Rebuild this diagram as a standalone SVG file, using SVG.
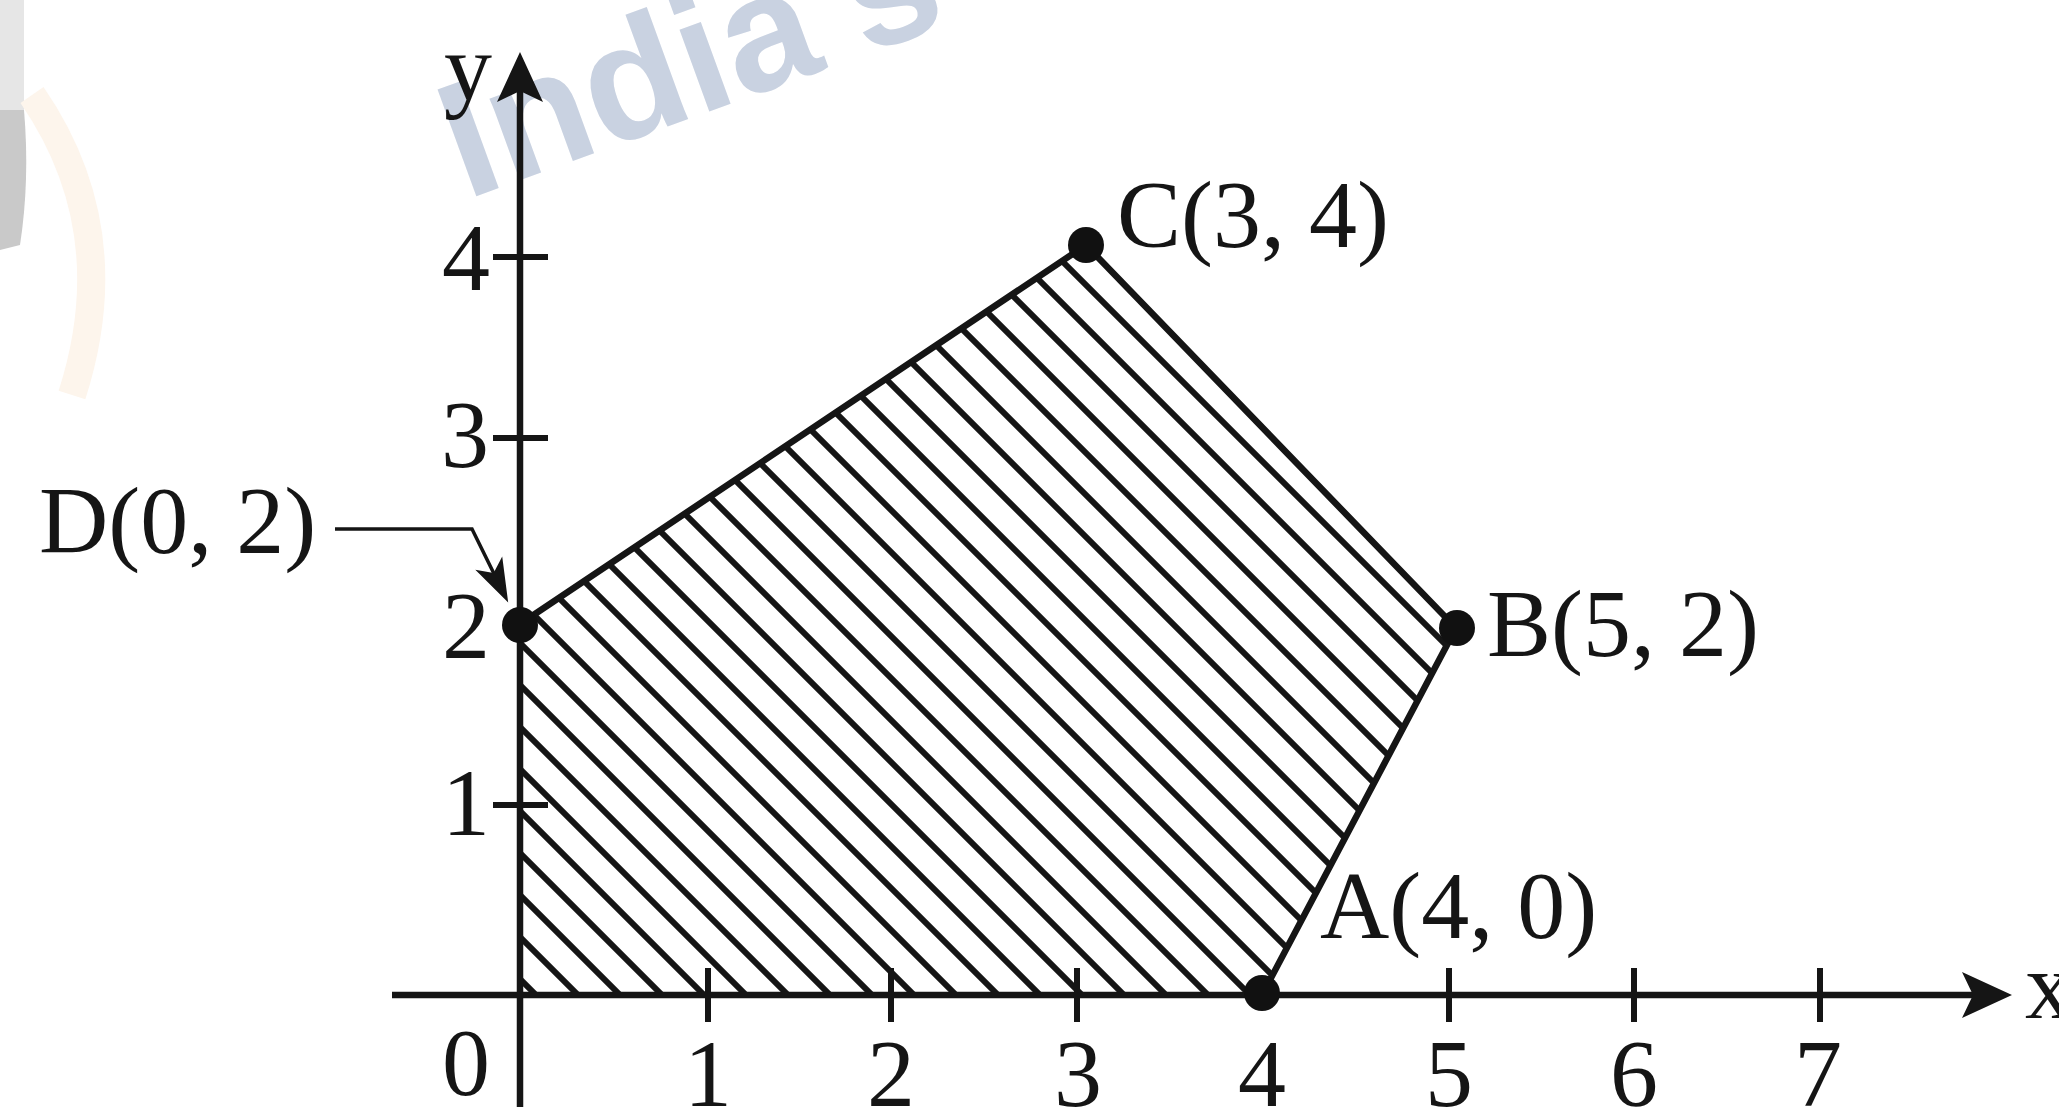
<svg xmlns="http://www.w3.org/2000/svg" width="2059" height="1107" viewBox="0 0 2059 1107">
  <style>
    .lbl { font-family: "Liberation Serif", "Times New Roman", serif; font-size: 96px; fill: #151515; }
    .axis { stroke: #151515; stroke-width: 6.5; fill: none; }
    .tick { stroke: #151515; stroke-width: 6; }
    .hatch { stroke: #151515; stroke-width: 6; }
    .edge { stroke: #151515; stroke-width: 6.5; fill: none; stroke-linejoin: round; }
    .dot { fill: #111111; }
    .leader { stroke: #151515; stroke-width: 3.5; fill: none; }
    .wm { font-family: "Liberation Sans", Arial, sans-serif; font-weight: bold; font-size: 165px; fill: #c9d2e1; }
  </style>
  <defs>
    <marker id="axisArrow" markerUnits="userSpaceOnUse" viewBox="-25 -26 60 52" markerWidth="60" markerHeight="52" refX="0" refY="0" orient="auto">
      <path d="M30,0 L-20,-23 L-9,0 L-20,23 Z" fill="#151515"/>
    </marker>
    <marker id="leadArrow" markerUnits="userSpaceOnUse" viewBox="-34 -18 54 36" markerWidth="54" markerHeight="36" refX="0" refY="0" orient="auto">
      <path d="M14,0 L-30,-15 L-19,0 L-30,15 Z" fill="#151515"/>
    </marker>
    <clipPath id="region">
      <polygon points="520,995 1262,995 1456,628 1086,245 520,624"/>
    </clipPath>
  </defs>

  <rect x="0" y="0" width="2059" height="1107" fill="#ffffff"/>

  <!-- faint watermark fragments -->
  <g id="watermark">
    <rect x="0" y="0" width="24" height="110" fill="#e6e6e6"/>
    <path d="M0,110 L24,110 Q30,180 20,245 L0,250 Z" fill="#c9c9c9"/>
    <path d="M32,95 Q125,230 72,395" stroke="#fdf5ec" stroke-width="28" fill="none"/>
    <text class="wm" x="466" y="200" transform="rotate(-20 466 200)">India's</text>
  </g>

  <!-- shaded feasible region -->
  <g id="region-hatch" clip-path="url(#region)">
    <line class="hatch" x1="-259" y1="200" x2="541" y2="1000"/>
    <line class="hatch" x1="-217" y1="200" x2="583" y2="1000"/>
    <line class="hatch" x1="-175" y1="200" x2="625" y2="1000"/>
    <line class="hatch" x1="-133" y1="200" x2="667" y2="1000"/>
    <line class="hatch" x1="-91" y1="200" x2="709" y2="1000"/>
    <line class="hatch" x1="-49" y1="200" x2="751" y2="1000"/>
    <line class="hatch" x1="-7" y1="200" x2="793" y2="1000"/>
    <line class="hatch" x1="35" y1="200" x2="835" y2="1000"/>
    <line class="hatch" x1="77" y1="200" x2="877" y2="1000"/>
    <line class="hatch" x1="119" y1="200" x2="919" y2="1000"/>
    <line class="hatch" x1="161" y1="200" x2="961" y2="1000"/>
    <line class="hatch" x1="203" y1="200" x2="1003" y2="1000"/>
    <line class="hatch" x1="245" y1="200" x2="1045" y2="1000"/>
    <line class="hatch" x1="287" y1="200" x2="1087" y2="1000"/>
    <line class="hatch" x1="329" y1="200" x2="1129" y2="1000"/>
    <line class="hatch" x1="371" y1="200" x2="1171" y2="1000"/>
    <line class="hatch" x1="413" y1="200" x2="1213" y2="1000"/>
    <line class="hatch" x1="455" y1="200" x2="1255" y2="1000"/>
    <line class="hatch" x1="497" y1="200" x2="1297" y2="1000"/>
    <line class="hatch" x1="539" y1="200" x2="1339" y2="1000"/>
    <line class="hatch" x1="581" y1="200" x2="1381" y2="1000"/>
    <line class="hatch" x1="623" y1="200" x2="1423" y2="1000"/>
    <line class="hatch" x1="665" y1="200" x2="1465" y2="1000"/>
    <line class="hatch" x1="707" y1="200" x2="1507" y2="1000"/>
    <line class="hatch" x1="749" y1="200" x2="1549" y2="1000"/>
    <line class="hatch" x1="791" y1="200" x2="1591" y2="1000"/>
    <line class="hatch" x1="833" y1="200" x2="1633" y2="1000"/>
    <line class="hatch" x1="875" y1="200" x2="1675" y2="1000"/>
    <line class="hatch" x1="917" y1="200" x2="1717" y2="1000"/>
    <line class="hatch" x1="959" y1="200" x2="1759" y2="1000"/>
    <line class="hatch" x1="1001" y1="200" x2="1801" y2="1000"/>
  </g>

  <!-- connectors: axes, ticks, edges, leader -->
  <g id="connectors">
    <line class="axis" x1="520" y1="1107" x2="520" y2="82" marker-end="url(#axisArrow)"/>
    <line class="axis" x1="392" y1="995" x2="1982" y2="995" marker-end="url(#axisArrow)"/>
    <line class="tick" x1="708" y1="968" x2="708" y2="1022"/>
    <line class="tick" x1="891" y1="968" x2="891" y2="1022"/>
    <line class="tick" x1="1077" y1="968" x2="1077" y2="1022"/>
    <line class="tick" x1="1449" y1="968" x2="1449" y2="1022"/>
    <line class="tick" x1="1634" y1="968" x2="1634" y2="1022"/>
    <line class="tick" x1="1820" y1="968" x2="1820" y2="1022"/>
    <line class="tick" x1="493" y1="805" x2="548" y2="805"/>
    <line class="tick" x1="493" y1="438" x2="548" y2="438"/>
    <line class="tick" x1="493" y1="257" x2="548" y2="257"/>
    <polyline class="edge" points="1262,995 1456,628 1086,245 520,624"/>
    <polyline class="leader" points="335,529 472,529 502,590" marker-end="url(#leadArrow)"/>
  </g>

  <!-- vertices -->
  <g id="node-D"><circle class="dot" cx="520" cy="625" r="18"/><text class="lbl" x="39" y="553">D(0, 2)</text></g>
  <g id="node-C"><circle class="dot" cx="1086" cy="245" r="18"/><text class="lbl" x="1117" y="247">C(3, 4)</text></g>
  <g id="node-B"><circle class="dot" cx="1457" cy="628" r="18"/><text class="lbl" x="1487" y="656">B(5, 2)</text></g>
  <g id="node-A"><circle class="dot" cx="1262" cy="993" r="18"/><text class="lbl" x="1320" y="938">A(4, 0)</text></g>

  <!-- axis labels -->
  <g id="axis-labels">
    <text class="lbl" x="468" y="100" text-anchor="middle">y</text>
    <text class="lbl" x="2025" y="1018">x</text>
    <text class="lbl" x="466" y="1095" text-anchor="middle">0</text>
    <text class="lbl" x="708" y="1106" text-anchor="middle">1</text>
    <text class="lbl" x="891" y="1106" text-anchor="middle">2</text>
    <text class="lbl" x="1078" y="1106" text-anchor="middle">3</text>
    <text class="lbl" x="1262" y="1106" text-anchor="middle">4</text>
    <text class="lbl" x="1449" y="1106" text-anchor="middle">5</text>
    <text class="lbl" x="1634" y="1106" text-anchor="middle">6</text>
    <text class="lbl" x="1818" y="1106" text-anchor="middle">7</text>
    <text class="lbl" x="466" y="290" text-anchor="middle">4</text>
    <text class="lbl" x="465" y="467" text-anchor="middle">3</text>
    <text class="lbl" x="466" y="658" text-anchor="middle">2</text>
    <text class="lbl" x="466" y="835" text-anchor="middle">1</text>
  </g>
</svg>
